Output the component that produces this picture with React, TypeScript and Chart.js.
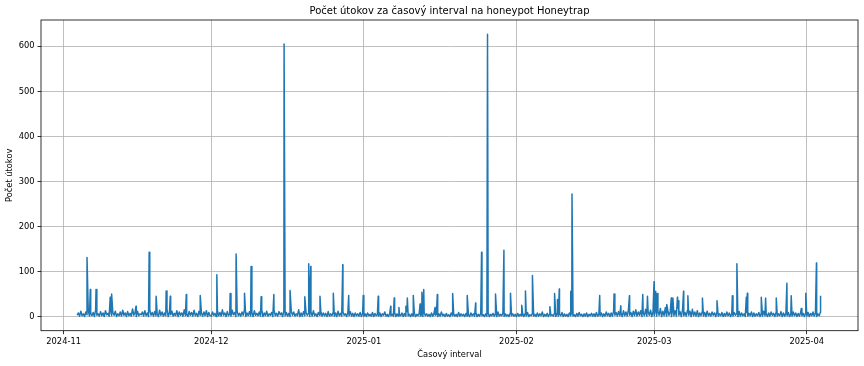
import React, { useEffect, useRef } from "react";
import { Chart, registerables } from "chart.js";

Chart.register(...registerables);

const TITLE = "Počet útokov za časový interval na honeypot Honeytrap";
const X_LABEL = "Časový interval";
const Y_LABEL = "Počet útokov";

const EPOCH = "2024-11-01T00:00";
const monthTickDates = [
  "2024-11-01T00:00",
  "2024-12-01T00:00",
  "2025-01-01T00:00",
  "2025-02-01T00:00",
  "2025-03-01T00:00",
  "2025-04-01T00:00",
];
const monthTickLabels = ["2024-11", "2024-12", "2025-01", "2025-02", "2025-03", "2025-04"];
const yTicks = [0, 100, 200, 300, 400, 500, 600];

// background counts, one value every 6 hours
const baselineStart = "2024-11-03T18:00";
const baselineStepHours = 6;
const baselineNov = [
  3, 8, 1, 12, 2, 6, 0, 10, 4, 14, 1, 7, 2, 9, 0, 15, 3, 6, 1, 11,
  2, 8, 0, 13, 4, 7, 1, 16, 2, 9, 3, 12, 0, 6, 2, 10, 1, 14, 3, 8,
  0, 11, 2, 7, 1, 17, 3, 9, 0, 12, 2, 6, 4, 10, 1, 13, 2, 8, 0, 15,
  3, 9, 1, 11, 2, 7, 0, 14, 3, 10, 1, 8, 2, 16, 0, 9, 4, 12, 1, 7,
  2, 13, 0, 10, 3, 8, 1, 15, 2, 6, 0, 11, 3, 9, 1, 14, 2, 7, 0, 12,
  3, 8, 1, 10, 2, 13, 0, 9, 2,
];
const baselineDec = [
  1, 10, 3, 7, 0, 13, 2, 9, 1, 15, 3, 8, 0, 11, 2, 6, 1, 14, 4, 9,
  0, 12, 2, 7, 1, 10, 3, 16, 0, 8, 2, 11, 1, 9, 0, 13, 3, 7, 2, 10,
  1, 15, 0, 8, 2, 12, 1, 6, 3, 9, 0, 14, 2, 7, 1, 11, 4, 8, 0, 13,
  2, 9, 1, 7, 0, 12, 3, 10, 1, 6, 2, 15, 0, 8, 1, 11, 2, 9, 3, 7,
  0, 10, 1, 13, 2, 6, 0, 9, 3, 12, 1, 8, 2, 7, 0, 11, 1, 6, 2, 9,
  1, 8, 0, 12, 2, 7, 1, 10, 3, 6, 0, 9, 2, 11, 1, 7, 0, 8, 2, 6,
  1, 9, 0, 7,
];
const baselineJan = [
  1, 6, 0, 8, 2, 5, 1, 9, 0, 7, 2, 4, 1, 8, 0, 6, 3, 10, 1, 5,
  0, 7, 2, 5, 1, 9, 0, 6, 1, 4, 2, 8, 0, 7, 1, 11, 2, 5, 0, 6,
  1, 8, 0, 5, 2, 7, 1, 4, 0, 9, 2, 6, 1, 5, 0, 8, 1, 7, 3, 5,
  0, 6, 1, 10, 2, 5, 0, 7, 1, 4, 0, 8, 2, 6, 1, 5, 0, 9, 1, 6,
  2, 5, 0, 7, 1, 4, 0, 8, 2, 6, 1, 9, 0, 5, 1, 7, 2, 4, 0, 6,
  1, 8, 0, 5, 2, 7, 1, 6, 0, 10, 1, 5, 2, 7, 0, 6, 1, 4, 0, 8,
  2, 6, 1, 5,
];
const baselineFeb = [
  0, 7, 1, 5, 2, 8, 0, 6, 1, 9, 0, 4, 2, 7, 1, 5, 0, 8, 1, 6,
  2, 10, 0, 5, 1, 7, 0, 6, 2, 4, 1, 8, 0, 7, 1, 5, 2, 9, 0, 6,
  1, 5, 0, 8, 2, 6, 1, 4, 0, 7, 1, 9, 2, 5, 0, 6, 1, 8, 0, 5,
  2, 7, 1, 6, 0, 9, 1, 5, 2, 8, 0, 6, 1, 10, 2, 7, 0, 8, 1, 12,
  3, 9, 1, 11, 2, 8, 0, 13, 2, 10, 1, 14, 3, 9, 0, 12, 2, 15, 1, 10,
  3, 13, 0, 9, 2, 16, 1, 11, 3, 14, 0, 10,
];
const baselineMar = [
  2, 15, 1, 11, 3, 18, 0, 12, 2, 20, 1, 14, 3, 10, 0, 17, 2, 13, 1, 19,
  3, 11, 0, 15, 2, 9, 1, 14, 3, 12, 0, 16, 2, 10, 1, 13, 0, 8, 2, 11,
  1, 9, 0, 12, 2, 7, 1, 10, 3, 8, 0, 11, 1, 6, 2, 9, 0, 7, 1, 10,
  2, 8, 0, 6, 1, 9, 3, 7, 0, 11, 1, 8, 2, 6, 0, 9, 1, 7, 2, 10,
  0, 8, 1, 6, 2, 9, 0, 7, 1, 12, 2, 6, 0, 8, 1, 10, 3, 7, 0, 9,
  1, 6, 2, 11, 0, 8, 1, 7, 2, 9, 0, 6, 1, 10, 2, 8, 0, 7, 1, 9,
  2, 7, 0, 8,
];
const baselineApr = [1, 9, 0, 7, 2, 10, 1, 8, 0, 6, 2, 9];

// attack bursts
const spikeTimes = [
  "2024-11-05T18:00", "2024-11-06T10:00", "2024-11-07T14:00", "2024-11-10T11:00", "2024-11-10T18:00",
  "2024-11-15T17:00", "2024-11-18T09:00", "2024-11-19T19:00", "2024-11-21T20:00", "2024-11-22T16:00",
  "2024-11-25T22:00", "2024-11-28T18:00", "2024-12-02T03:00", "2024-12-04T20:00", "2024-12-06T01:00",
  "2024-12-07T18:00", "2024-12-09T02:00", "2024-12-11T03:00", "2024-12-13T17:00", "2024-12-15T19:00",
  "2024-12-17T00:00", "2024-12-20T00:00", "2024-12-20T19:00", "2024-12-21T05:00", "2024-12-23T02:00",
  "2024-12-25T19:00", "2024-12-27T17:00", "2024-12-28T22:00", "2024-12-31T21:00", "2025-01-03T22:00",
  "2025-01-06T11:00", "2025-01-07T04:00", "2025-01-08T03:00", "2025-01-09T13:00", "2025-01-09T20:00",
  "2025-01-11T01:00", "2025-01-12T10:00", "2025-01-12T19:00", "2025-01-13T04:00", "2025-01-15T11:00",
  "2025-01-15T22:00", "2025-01-19T01:00", "2025-01-22T00:00", "2025-01-23T17:00", "2025-01-24T22:00",
  "2025-01-26T03:00", "2025-01-27T18:00", "2025-01-29T11:00", "2025-01-30T19:00", "2025-02-02T02:00",
  "2025-02-02T20:00", "2025-02-04T06:00", "2025-02-07T19:00", "2025-02-08T18:00", "2025-02-09T08:00",
  "2025-02-09T17:00", "2025-02-12T01:00", "2025-02-12T07:00", "2025-02-17T22:00", "2025-02-20T20:00",
  "2025-02-22T05:00", "2025-02-23T23:00", "2025-02-26T16:00", "2025-02-27T15:00", "2025-02-28T23:00",
  "2025-03-01T07:00", "2025-03-01T15:00", "2025-03-03T13:00", "2025-03-04T11:00", "2025-03-04T19:00",
  "2025-03-05T17:00", "2025-03-05T23:00", "2025-03-06T23:00", "2025-03-07T20:00", "2025-03-10T19:00",
  "2025-03-13T18:00", "2025-03-16T21:00", "2025-03-17T19:00", "2025-03-19T17:00", "2025-03-19T22:00",
  "2025-03-22T18:00", "2025-03-23T15:00", "2025-03-25T19:00", "2025-03-27T23:00", "2025-03-28T20:00",
  "2025-03-30T21:00", "2025-03-31T19:00", "2025-04-02T23:00", "2025-04-03T19:00",
];
const spikeValues = [
  131, 60, 60, 43, 50,
  23, 143, 45, 57, 45,
  49, 47, 93, 51, 139,
  52, 111, 44, 49, 605,
  58, 44, 117, 111, 45,
  52, 115, 47, 47, 45,
  23, 41, 20, 23, 41,
  47, 28, 54, 60, 20,
  49, 51, 47, 30, 143,
  627, 50, 147, 52, 25,
  57, 91, 22, 51, 38,
  61, 56, 272, 47, 50,
  24, 46, 49, 45, 77,
  56, 51, 27, 41, 41,
  43, 35, 56, 46, 41,
  35, 46, 117, 43, 52,
  43, 41, 41, 74, 46,
  18, 52, 119, 46,
];

const X_MIN = -4.6;
const X_MAX = 161.4;
const Y_MIN = -31.4;
const Y_MAX = 658.4;

const FONT = "'DejaVu Sans', 'Liberation Sans', sans-serif";

function dayOffset(iso: string): number {
  return (new Date(iso + ":00Z").getTime() - new Date(EPOCH + ":00Z").getTime()) / 86400000;
}

function buildPoints() {
  const baseline = [
    ...baselineNov,
    ...baselineDec,
    ...baselineJan,
    ...baselineFeb,
    ...baselineMar,
    ...baselineApr,
  ];
  const start = dayOffset(baselineStart);
  const pts: { x: number; y: number }[] = baseline.map((v, i) => ({
    x: start + (i * baselineStepHours) / 24,
    y: v,
  }));
  spikeTimes.forEach((t, i) => pts.push({ x: dayOffset(t), y: spikeValues[i] }));
  pts.sort((a, b) => a.x - b.x);
  return pts;
}

const framePlugin = {
  id: "mplFrame",
  afterDraw(chart: any) {
    const { ctx, chartArea } = chart;
    const { left, right, top, bottom } = chartArea;
    ctx.save();
    ctx.strokeStyle = "#000";
    ctx.lineWidth = 0.8;
    ctx.strokeRect(left, top, right - left, bottom - top);
    ctx.fillStyle = "#000";
    ctx.textAlign = "center";
    ctx.textBaseline = "middle";
    ctx.font = `10px ${FONT}`;
    ctx.fillText(TITLE, (left + right) / 2, 11);
    ctx.font = `8.3px ${FONT}`;
    ctx.fillText(X_LABEL, (left + right) / 2, 355);
    ctx.translate(10, (top + bottom) / 2);
    ctx.rotate(-Math.PI / 2);
    ctx.fillText(Y_LABEL, 0, 0);
    ctx.restore();
  },
};

export default function App() {
  const canvasRef = useRef<HTMLCanvasElement | null>(null);

  useEffect(() => {
    const canvas = canvasRef.current;
    if (!canvas) return;
    const monthValues = monthTickDates.map(dayOffset);
    const chart = new Chart(canvas, {
      type: "line",
      data: {
        datasets: [
          {
            data: buildPoints(),
            borderColor: "#1f77b4",
            borderWidth: 1.5,
            borderJoinStyle: "round",
            pointRadius: 0,
            tension: 0,
            fill: false,
          },
        ],
      },
      options: {
        animation: false,
        responsive: false,
        devicePixelRatio: 1,
        parsing: false,
        layout: { padding: { top: 20, right: 6, left: 0, bottom: 0 } },
        plugins: {
          legend: { display: false },
          tooltip: { enabled: false },
          title: { display: false },
        },
        scales: {
          x: {
            type: "linear",
            min: X_MIN,
            max: X_MAX,
            afterBuildTicks: (scale: any) => {
              scale.ticks = monthValues.map((v) => ({ value: v }));
            },
            afterFit: (scale: any) => {
              scale.height = 35.3;
            },
            ticks: {
              autoSkip: false,
              maxRotation: 0,
              minRotation: 0,
              padding: 2.5,
              color: "#000",
              font: { family: FONT, size: 8.3 },
              callback: (value: any) => {
                const idx = monthValues.findIndex((m) => Math.abs(m - Number(value)) < 1e-6);
                return idx >= 0 ? monthTickLabels[idx] : "";
              },
            },
            grid: {
              color: "#b0b0b0",
              lineWidth: 0.8,
              drawTicks: true,
              tickLength: 3.5,
              tickColor: "#000",
              tickWidth: 0.8,
            },
            border: { display: false },
          },
          y: {
            type: "linear",
            min: Y_MIN,
            max: Y_MAX,
            afterBuildTicks: (scale: any) => {
              scale.ticks = yTicks.map((v) => ({ value: v }));
            },
            afterFit: (scale: any) => {
              scale.width = 41;
            },
            ticks: {
              autoSkip: false,
              padding: 3,
              color: "#000",
              font: { family: FONT, size: 8.3 },
              callback: (value: any) => String(value),
            },
            grid: {
              color: "#b0b0b0",
              lineWidth: 0.8,
              drawTicks: true,
              tickLength: 3.5,
              tickColor: "#000",
              tickWidth: 0.8,
            },
            border: { display: false },
          },
        },
      },
      plugins: [framePlugin],
    } as any);
    return () => chart.destroy();
  }, []);

  return (
    <div style={{ position: "absolute", left: 0, top: 0, width: 864, height: 366, background: "#fff" }}>
      <canvas ref={canvasRef} width={864} height={366} style={{ width: 864, height: 366, display: "block" }} />
    </div>
  );
}
